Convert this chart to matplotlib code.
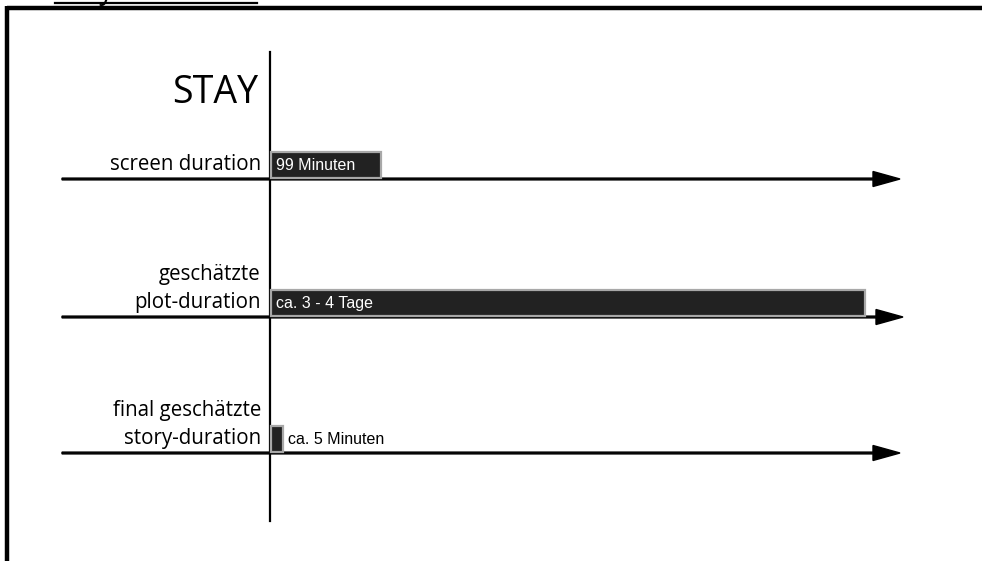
import matplotlib
matplotlib.use("Agg")
import matplotlib.pyplot as plt

# Zeilen des Stay-Charts
kategorien = ["screen duration", "geschätzte\nplot-duration", "final geschätzte\nstory-duration"]
balken_laenge = [110, 594, 12]      # Balkenlaenge (Skala des Bildes)
balken_text = ["99 Minuten", "ca. 3 - 4 Tage", "ca. 5 Minuten"]
titel = "STAY"

# Layout in Pixeln
W, H = 982, 561
x0 = 270                       # senkrechte Achse
zeilen_y = [179, 317, 453]      # waagrechte Pfeile
pfeil_ende = [900, 903, 900]
bar_h = 26

fig = plt.figure(figsize=(W / 100, H / 100), dpi=100)
ax = fig.add_axes([0, 0, 1, 1])
ax.set_xlim(0, W)
ax.set_ylim(H, 0)
ax.axis("off")

# Rahmen (oben und links) + abgeschnittene Ueberschrift
ax.plot([7, W], [8, 8], color="black", lw=3.2, solid_capstyle="butt")
ax.plot([7, 7], [6, H], color="black", lw=3.2, solid_capstyle="butt")
ax.plot([55, 257], [2.5, 2.5], color="black", lw=1.6)
ax.text(60, -1, "Stay-Chart", fontsize=20, family="Open Sans", va="baseline", ha="left")

# senkrechte Achse
ax.plot([x0, x0], [52, 521], color="black", lw=1.6)
ax.text(x0 - 12, 103, titel, fontsize=27, family="Open Sans", ha="right", va="baseline")

label_font = "Open Sans"
bar_font = ["Liberation Sans Narrow", "Liberation Sans", "DejaVu Sans"]

for kat, laenge, txt, y, xe in zip(kategorien, balken_laenge, balken_text, zeilen_y, pfeil_ende):
    ax.arrow(62, y, xe - 62, 0, width=1.8, head_width=15, head_length=27,
             length_includes_head=True, fc="black", ec="black", zorder=2)
    ax.barh(y - bar_h / 2 - 1, laenge, height=bar_h, left=x0 + 1,
            color="#222222", edgecolor="#a8a8a8", lw=1.6, zorder=3)
    ax.text(x0 - 9, y - 9, kat, fontsize=14.8, family=label_font, ha="right",
            va="baseline", multialignment="right", linespacing=1.45)
    if laenge > 60:
        ax.text(x0 + 6, y - 9, txt, fontsize=11.5, family=bar_font, color="white",
                ha="left", va="baseline", zorder=4)
    else:
        ax.text(x0 + laenge + 6, y - 9, txt, fontsize=11.5, family=bar_font, color="black",
                ha="left", va="baseline", zorder=4)

fig.savefig("out.png", dpi=100, facecolor="white")
